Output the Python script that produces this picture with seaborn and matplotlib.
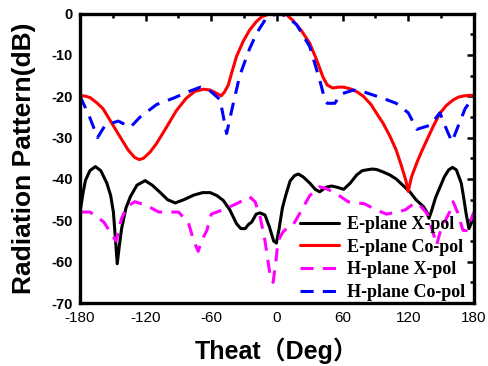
import numpy as np
import pandas as pd
import seaborn as sns
import matplotlib.pyplot as plt
from matplotlib.ticker import MultipleLocator

# E-plane X-pol (black)
ex_deg = [-180, -177, -175, -171, -166, -161, -155.5, -152, -149.5, -147.5, -146, -144, -142, -138, -134, -128,
          -120.5, -114, -107, -100, -93, -85, -76, -68, -61, -55, -49, -43, -37, -33, -29, -26, -23, -19, -15.5,
          -11, -7, -3, -0.5, 2, 5, 8, 12, 16, 19.5, 24, 30, 35, 39, 45, 50, 55, 61, 67, 73, 78, 82, 87, 91, 97,
          103, 109, 115, 121.5, 127, 134, 137, 139, 141, 145, 149, 153, 157, 160.5, 164, 168.5, 171, 173, 175.5,
          178, 180]
ex_db = [-48, -43, -40.3, -38, -37, -38, -41, -44, -48, -55, -60.5, -56, -52, -47, -44.3, -41.5,
         -40.4, -41.5, -43.2, -45, -45.8, -45, -43.9, -43.3, -43.3, -44, -45.2, -47.5, -50.8, -52, -52, -51, -50.4,
         -48.5, -48.2, -48.7, -51.5, -55, -55.5, -52, -47, -44, -40.5, -39.2, -38.8, -39.5, -41, -42.5, -43.1, -42,
         -41.7, -42, -42.5, -41, -39, -38, -37.8, -37.6, -37.7, -38.3, -39, -40, -41.5, -43.1, -45, -46.7, -48,
         -49.5, -48, -44.5, -42, -39.5, -37.8, -37.2, -37.8, -41, -45, -48.5, -52, -50.5, -48.3]

# E-plane Co-pol (red)
ec_deg = [-180, -175, -171, -165, -159, -151, -143, -136, -130, -126, -122, -116, -110, -101, -92, -83, -75, -67,
          -61, -55, -51, -48, -44.5, -41, -37, -31, -25, -19, -14, -9, -5, 0, 5, 9, 15, 22, 30, 36, 42, 46, 51, 56,
          61, 67, 73, 79, 86, 92, 97, 103, 109, 114, 118, 120, 123, 128, 132, 137, 143, 149, 155, 161, 166, 171,
          176, 180]
ec_db = [-19.8, -20, -20.3, -21.5, -23, -26.5, -30, -33, -34.8, -35.3, -35, -33.5, -31.4, -27.5, -23.5, -20.5,
         -18.8, -18.3, -18.5, -19.3, -19.9, -19, -17.3, -14, -10.4, -6.8, -4, -2, -0.8, -0.3, 0, 0, 0, -0.3, -1.8,
         -4, -7.2, -11, -15.3, -17.3, -18, -17.8, -17.8, -18.2, -18.9, -20, -22, -24.5, -26.5, -29.5, -33, -37,
         -40.5, -43, -39.5, -36, -33.5, -30.6, -27.2, -24.1, -22.2, -20.9, -20.2, -19.9, -19.8, -19.8]

# H-plane X-pol (magenta)
hx_deg = [-180, -171, -165, -158, -151, -147, -142, -137, -130, -120, -108, -99, -90, -81, -76, -72, -69, -64, -60,
          -50, -37, -25, -20, -15.5, -11, -6, -3.5, -1, 1, 5, 10, 15, 22, 30, 39, 45, 54, 65, 80, 91, 100, 110, 117,
          125, 129, 137, 143, 146, 149, 154, 158, 161, 165, 170, 173, 176, 180]
hx_db = [-48, -48, -49, -50.5, -53.5, -55, -49.5, -46.7, -45.5, -46.3, -48, -48, -48, -50.5, -55, -57.5, -55, -52.4,
         -48.5, -47.5, -46, -44.3, -45.5, -49, -54.8, -63.7, -65, -60, -55, -53, -51.6, -51, -47.8, -44, -41.9,
         -42.3, -43.5, -45.5, -46, -47.5, -48.5, -48, -47.5, -46, -45.9, -48.3, -53.2, -56, -53, -50, -47.9, -45.5,
         -48, -52.4, -52.5, -50.8, -48]

# H-plane Co-pol (blue)
hc_deg = [-180, -172, -164, -157, -145, -134, -125, -110, -95, -80, -70, -62, -52, -46, -41, -34, -25, -18, -10, 0,
          8, 18, 30, 39, 44, 46, 53, 58, 70, 80, 97, 109, 120, 128, 140, 149, 155, 160, 166, 172, 180]
hc_db = [-20, -24.5, -30, -27, -26, -27.5, -25, -22, -20.5, -18.8, -17.8, -18.5, -20.8, -29, -23, -15, -8.5, -4.5,
         -1.2, 0, -0.5, -2.7, -8, -16, -21, -21.7, -21.7, -19.5, -18.5, -19, -20.5, -21.7, -24, -28, -27, -24, -28,
         -31, -27, -23, -20]

sns.set_style("white")
plt.rcParams['font.family'] = ['Liberation Sans', 'Noto Sans CJK SC']
plt.rcParams['text.color'] = 'black'
plt.rcParams['axes.labelcolor'] = 'black'
plt.rcParams['axes.unicode_minus'] = False

fig = plt.figure(figsize=(4.88, 3.66), dpi=100)
ax = fig.add_axes([0.164, 0.172, 0.807, 0.791])

lw = 2.2
sns.lineplot(x=ex_deg, y=ex_db, ax=ax, color='black', lw=lw, label='E-plane X-pol')
sns.lineplot(x=ec_deg, y=ec_db, ax=ax, color='red', lw=lw, label='E-plane Co-pol')
sns.lineplot(x=hx_deg, y=hx_db, ax=ax, color='magenta', lw=lw, dashes=(4.3, 3), label='H-plane X-pol')
sns.lineplot(x=hc_deg, y=hc_db, ax=ax, color='blue', lw=lw, dashes=(4.3, 3), label='H-plane Co-pol')

ax.set_xlim(-180, 180)
ax.set_ylim(-70, 0)
ax.xaxis.set_major_locator(MultipleLocator(60))
ax.xaxis.set_minor_locator(MultipleLocator(30))
ax.yaxis.set_major_locator(MultipleLocator(10))
ax.yaxis.set_minor_locator(MultipleLocator(5))
ax.tick_params(which='both', direction='in', top=True, right=True, width=1.8, colors='black',
               labelcolor='black')
ax.tick_params(which='major', length=5)
ax.tick_params(which='minor', length=3)
ax.tick_params(axis='x', which='major', labelsize=11, pad=6)
ax.tick_params(axis='y', which='major', labelsize=10.5, pad=5)
for lab in ax.get_yticklabels():
    lab.set_fontweight('bold')
for sp in ax.spines.values():
    sp.set_linewidth(2.4)
    sp.set_color('black')

ax.set_xlabel('Theat（Deg）', fontsize=18, fontweight='bold')
ax.set_ylabel('Radiation Pattern(dB)', fontsize=19, fontweight='bold')
ax.xaxis.set_label_coords(0.5, -0.118)
ax.yaxis.set_label_coords(-0.112, 0.5)

leg = ax.legend(loc='lower right', bbox_to_anchor=(1.0, -0.025), frameon=False,
                prop={'family': 'Liberation Serif', 'weight': 'bold', 'size': 13},
                handlelength=2.2, handletextpad=0.4, labelspacing=0.32, borderaxespad=0.1)

fig.savefig('out.png', dpi=100)
